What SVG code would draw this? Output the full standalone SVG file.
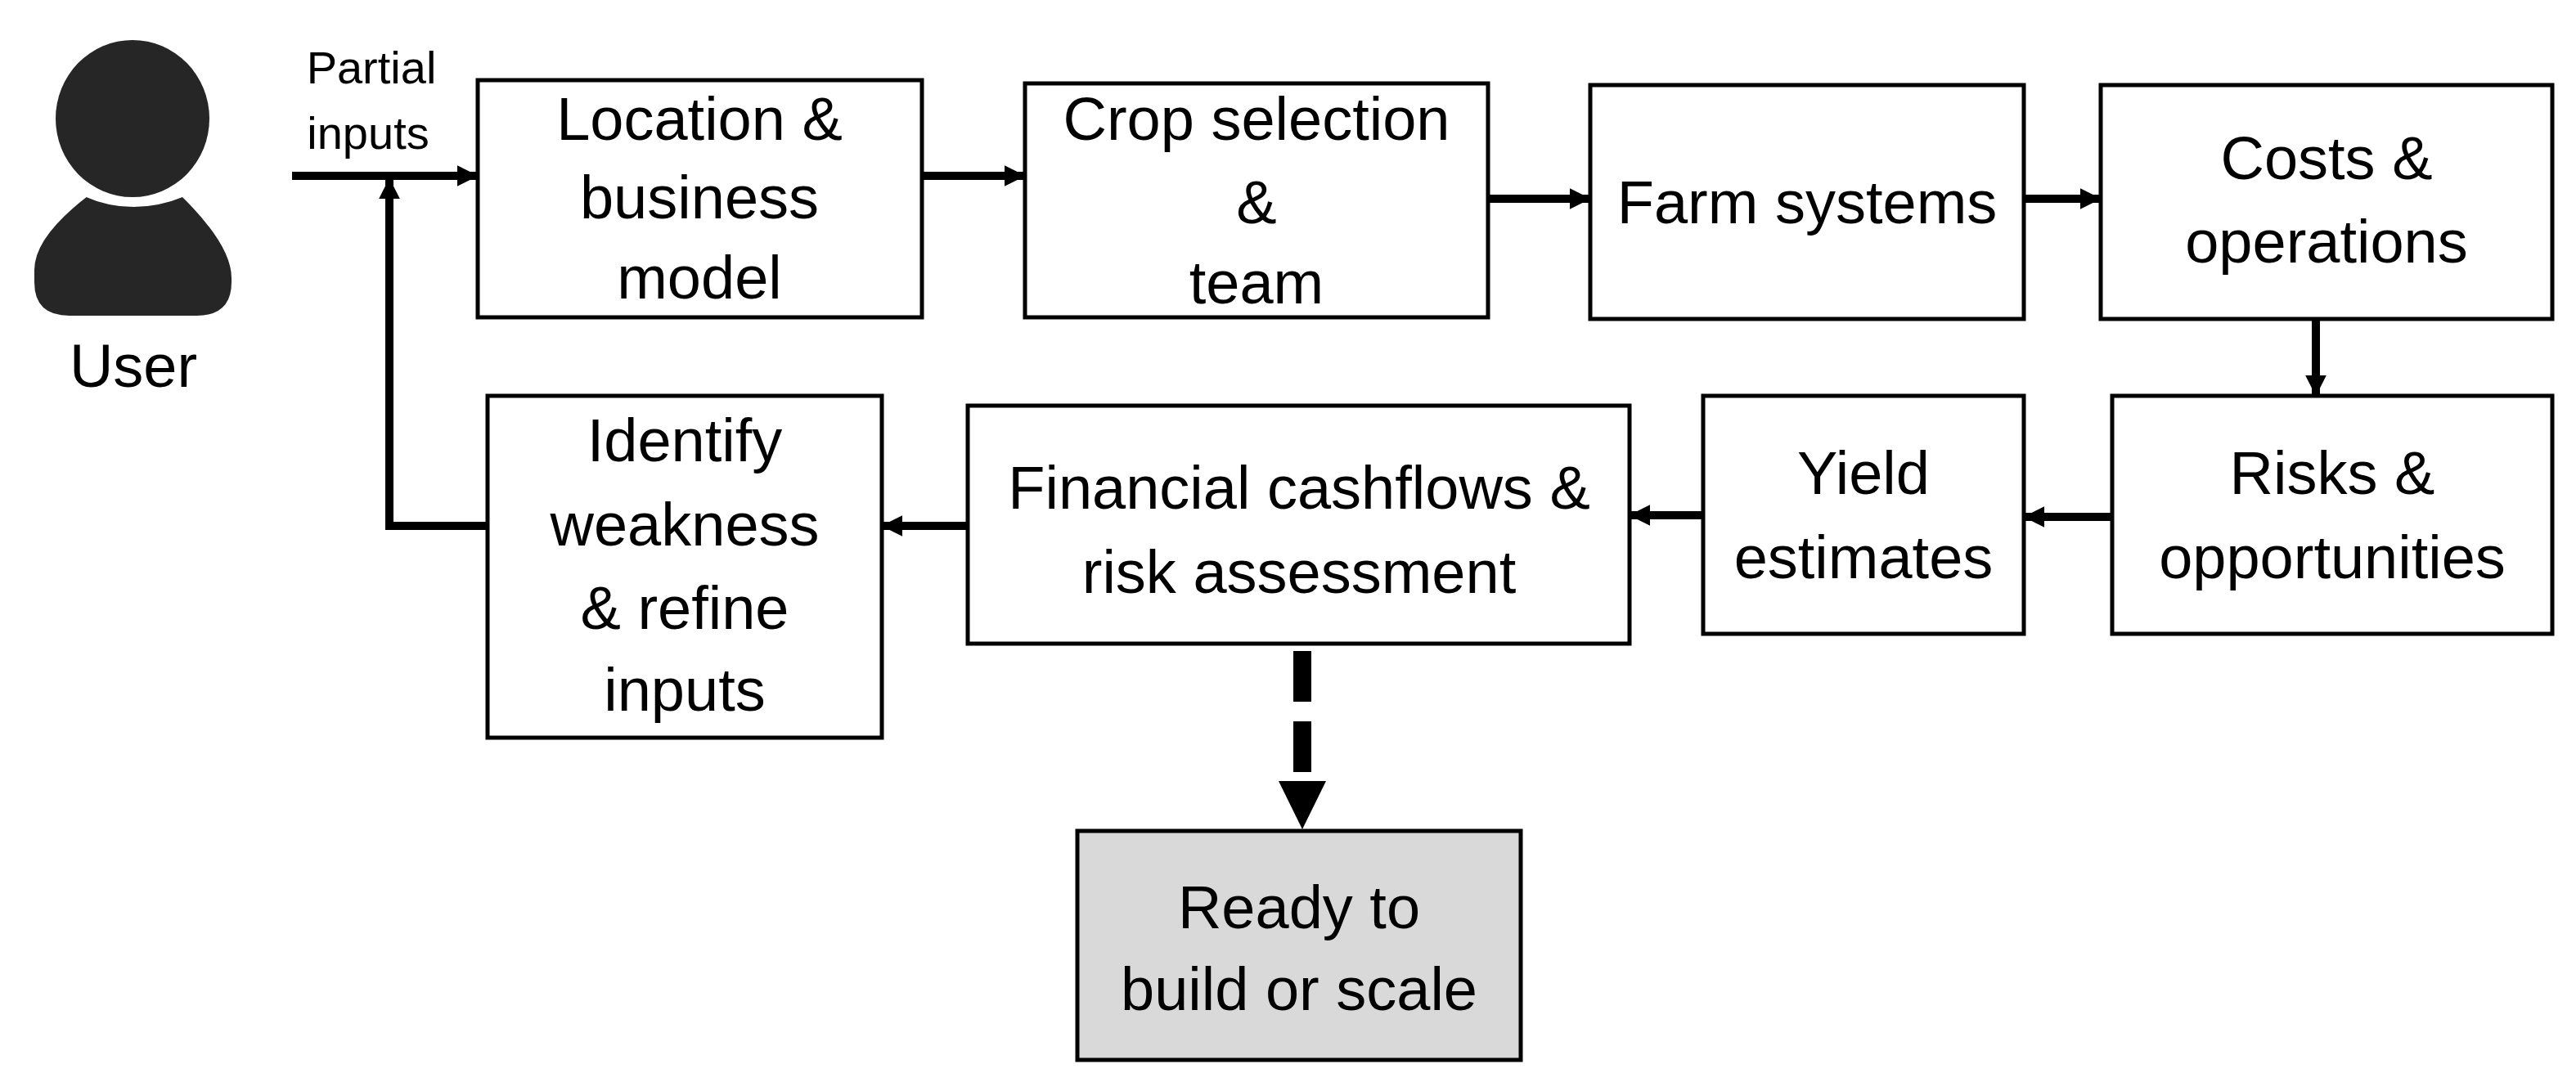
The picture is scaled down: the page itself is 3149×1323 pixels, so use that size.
<svg xmlns="http://www.w3.org/2000/svg" width="3149" height="1323" viewBox="0 0 3149 1323">
<style>
.b{fill:#fff;stroke:#000;stroke-width:5}
.g{fill:#d9d9d9;stroke:#000;stroke-width:5}
text{font-family:"Liberation Sans",Arial,sans-serif;font-size:74px;text-anchor:middle;fill:#000}
.c{stroke:#000;stroke-width:10;fill:none}
</style>
<defs>
<marker id="a" viewBox="0 0 10 10" refX="9" refY="5" markerWidth="2.6" markerHeight="2.6" orient="auto" markerUnits="strokeWidth"><path d="M0,0L10,5L0,10z" fill="#000"/></marker>
</defs>
<rect width="3149" height="1323" fill="#fff"/>
<g id="user">
<ellipse cx="162" cy="145" rx="94" ry="96" fill="#262626"/>
<path d="M107,240 Q162,262 222,240 Q283,300 283,340 L283,345 Q283,386 240,386 L85,386 Q42,386 42,345 L42,330 Q42,290 107,240z" fill="#262626"/>
<path d="M104,236 Q162,262 225,236" stroke="#fff" stroke-width="8" fill="none"/>
<text x="163" y="473">User</text>
</g>
<g id="location"><rect class="b" x="584" y="98" width="543" height="290"/><text x="855" y="171">Location &amp;</text><text x="855" y="267">business</text><text x="855" y="365">model</text></g>
<g id="crop"><rect class="b" x="1253" y="102" width="566" height="286"/><text x="1536" y="171">Crop selection</text><text x="1536" y="273">&amp;</text><text x="1536" y="371">team</text></g>
<g id="farm"><rect class="b" x="1944" y="104" width="530" height="286"/><text x="2209" y="273">Farm systems</text></g>
<g id="costs"><rect class="b" x="2568" y="104" width="552" height="286"/><text x="2844" y="219">Costs &amp;</text><text x="2844" y="321">operations</text></g>
<g id="risks"><rect class="b" x="2582" y="484" width="538" height="291"/><text x="2851" y="604">Risks &amp;</text><text x="2851" y="707">opportunities</text></g>
<g id="yield"><rect class="b" x="2082" y="484" width="392" height="291"/><text x="2278" y="604">Yield</text><text x="2278" y="707">estimates</text></g>
<g id="financial"><rect class="b" x="1183" y="496" width="809" height="291"/><text x="1588" y="622">Financial cashflows &amp;</text><text x="1588" y="725">risk assessment</text></g>
<g id="identify"><rect class="b" x="596" y="484" width="482" height="418"/><text x="837" y="564">Identify</text><text x="837" y="667">weakness</text><text x="837" y="769">&amp; refine</text><text x="837" y="869">inputs</text></g>
<g id="ready"><rect class="g" x="1317" y="1016" width="542" height="280"/><text x="1588" y="1135">Ready to</text><text x="1588" y="1235">build or scale</text></g>
<g id="connectors">
<path class="c" d="M357,215H582" marker-end="url(#a)"/>
<text x="454" y="102" style="font-size:56px">Partial</text>
<text x="450" y="182" style="font-size:56px">inputs</text>
<path class="c" d="M1127,215H1251" marker-end="url(#a)"/>
<path class="c" d="M1819,243H1942" marker-end="url(#a)"/>
<path class="c" d="M2474,243H2566" marker-end="url(#a)"/>
<path class="c" d="M2831,390V482" marker-end="url(#a)"/>
<path class="c" d="M2582,632H2476" marker-end="url(#a)"/>
<path class="c" d="M2082,630H1994" marker-end="url(#a)"/>
<path class="c" d="M1183,643H1080" marker-end="url(#a)"/>
<path class="c" d="M596,643H476V220" marker-end="url(#a)"/>
<path d="M1592,796V944" stroke="#000" stroke-width="22" stroke-dasharray="62,24" fill="none"/>
<path d="M1563,955H1621L1592,1014z" fill="#000"/>
</g>
</svg>
